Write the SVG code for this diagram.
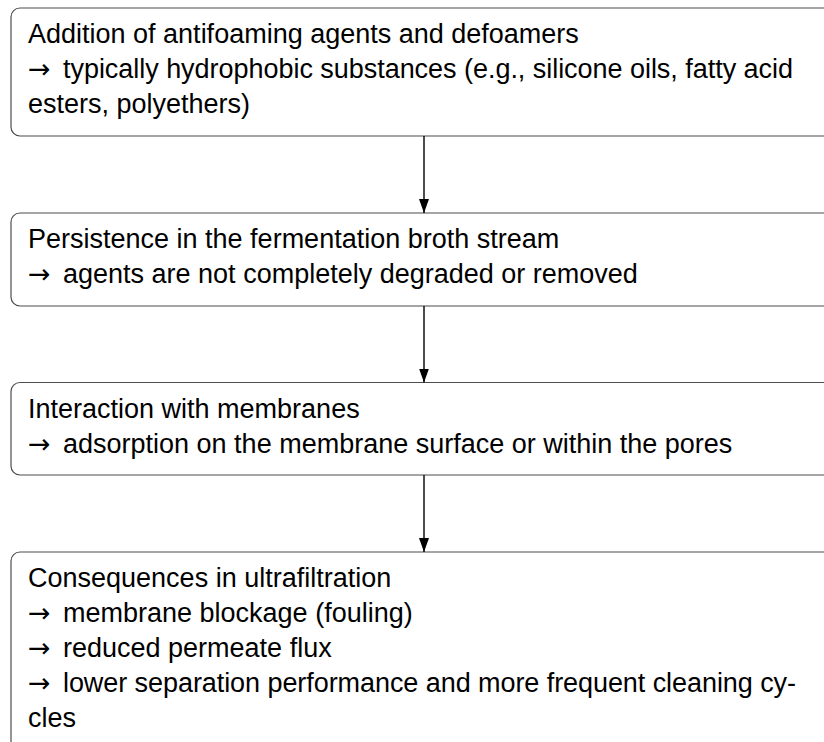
<svg xmlns="http://www.w3.org/2000/svg" width="824" height="742" viewBox="0 0 824 742">
  <style>
    .box { fill: #ffffff; stroke: #4d4d4d; stroke-width: 1.2; }
    .t { font-family: "Liberation Sans", Arial, Helvetica, sans-serif; font-size: 27px; fill: #000000; }
    .ar { font-family: "DejaVu Sans", sans-serif; font-size: 27px; fill: #000000; }
    .arrow { stroke: #000000; stroke-width: 1.4; fill: none; }
  </style>
  <defs>
    <marker id="ah" viewBox="0 0 14 10" markerWidth="14" markerHeight="10" refX="14" refY="5" orient="auto" markerUnits="userSpaceOnUse">
      <path d="M0,0 L14,5 L0,10 Z" fill="#000000"/>
    </marker>
  </defs>
  <rect width="824" height="742" fill="#ffffff"/>

  <g id="node1">
    <rect class="box" x="11" y="8" width="826" height="128" rx="9" ry="9"/>
    <text class="t" x="28" y="43">Addition of antifoaming agents and defoamers</text>
    <text class="ar" x="28" y="78">→</text>
    <text class="t" x="63" y="78" textLength="730" lengthAdjust="spacing">typically hydrophobic substances (e.g., silicone oils, fatty acid</text>
    <text class="t" x="28" y="113">esters, polyethers)</text>
  </g>

  <g id="node2">
    <rect class="box" x="11" y="213" width="826" height="93" rx="9" ry="9"/>
    <text class="t" x="28" y="248">Persistence in the fermentation broth stream</text>
    <text class="ar" x="28" y="283">→</text>
    <text class="t" x="63" y="283">agents are not completely degraded or removed</text>
  </g>

  <g id="node3">
    <rect class="box" x="11" y="382.5" width="826" height="92.5" rx="9" ry="9"/>
    <text class="t" x="28" y="417.5">Interaction with membranes</text>
    <text class="ar" x="28" y="452.5">→</text>
    <text class="t" x="63" y="452.5">adsorption on the membrane surface or within the pores</text>
  </g>

  <g id="node4">
    <rect class="box" x="11" y="552" width="826" height="200" rx="9" ry="9"/>
    <text class="t" x="28" y="587">Consequences in ultrafiltration</text>
    <text class="ar" x="28" y="622">→</text>
    <text class="t" x="63" y="622">membrane blockage (fouling)</text>
    <text class="ar" x="28" y="657">→</text>
    <text class="t" x="63" y="657">reduced permeate flux</text>
    <text class="ar" x="28" y="692">→</text>
    <text class="t" x="63" y="692" textLength="733" lengthAdjust="spacing">lower separation performance and more frequent cleaning cy-</text>
    <text class="t" x="28" y="727">cles</text>
  </g>

  <g id="connectors">
    <line class="arrow" x1="424" y1="136" x2="424" y2="213" marker-end="url(#ah)"/>
    <line class="arrow" x1="424" y1="306" x2="424" y2="382.5" marker-end="url(#ah)"/>
    <line class="arrow" x1="424" y1="475" x2="424" y2="552" marker-end="url(#ah)"/>
  </g>
</svg>
